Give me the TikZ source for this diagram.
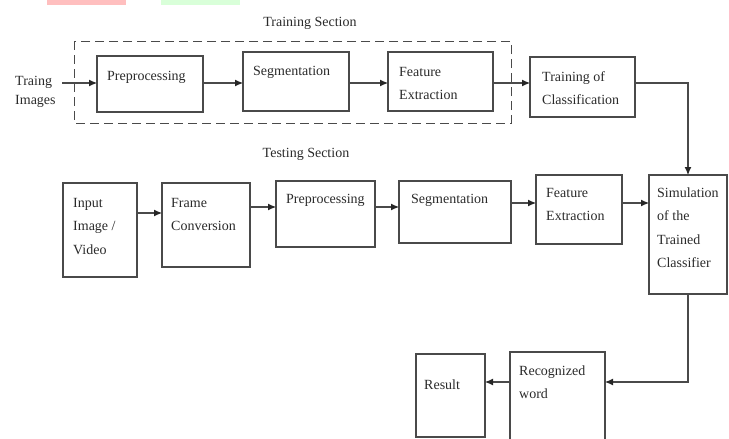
\documentclass[tikz,border=0pt]{standalone}
\usepackage{fontspec}
\setmainfont{Liberation Serif}
\usetikzlibrary{arrows.meta,calc}
\definecolor{ln}{HTML}{4A4A4A}
\definecolor{tx}{HTML}{2A2A2A}
\begin{document}
\begin{tikzpicture}[x=1pt,y=-1pt,
  box/.style={draw=ln,line width=1.1pt,rectangle,inner sep=0pt,outer sep=0pt},
  lbl/.style={anchor=base west,inner sep=0pt,align=left,text=tx,font=\fontsize{14}{23.5}\selectfont},
  ttl/.style={anchor=base,inner sep=0pt,text=tx,font=\fontsize{14}{17}\selectfont},
  arr/.style={draw=ln,line width=1.1pt,-{Latex[length=8pt,width=7pt,color=black!85]}},
  dbox/.style={draw=ln,line width=1pt,dash pattern=on 9pt off 5pt}]
\useasboundingbox (0,0) rectangle (729,439);
% header fragments
\fill[fill=red!25] (47,0) rectangle (126,5);
\fill[fill=green!15] (161,0) rectangle (240,5);
% titles
\node[ttl] (trtitle) at (310,27) {Training Section};
\node[ttl] (tetitle) at (306,157) {Testing Section};
% training section frame
\draw[dbox] (74,41) rectangle (511,123);
% training boxes
\node[box,minimum width=106pt,minimum height=56pt] (tp) at (150,84) {};
\node[box,minimum width=106pt,minimum height=59pt] (ts) at (296,81.5) {};
\node[box,minimum width=105pt,minimum height=59pt] (tf) at (440.5,81.5) {};
\node[box,minimum width=105pt,minimum height=60pt] (tc) at (582.5,87) {};
\node[lbl,font=\fontsize{14}{19}\selectfont] (tin) at (15,104) {Traing\\Images};
\node[lbl] (tpt) at (107,80) {Preprocessing};
\node[lbl] (tst) at (253,75) {Segmentation};
\node[lbl] (tft) at (399,99.5) {Feature\\Extraction};
\node[lbl] (tct) at (542,104.5) {Training of\\Classification};
% testing boxes
\node[box,minimum width=74pt,minimum height=94pt] (ii) at (100,230) {};
\node[box,minimum width=88pt,minimum height=84pt] (fc) at (206,225) {};
\node[box,minimum width=99pt,minimum height=66pt] (pp) at (325.5,214) {};
\node[box,minimum width=112pt,minimum height=62pt] (sg) at (455,212) {};
\node[box,minimum width=86pt,minimum height=69pt] (fe) at (579,209.5) {};
\node[box,minimum width=78pt,minimum height=119pt] (sim) at (688,234.5) {};
\node[box,minimum width=95pt,minimum height=94pt] (rw) at (557.5,399) {};
\node[box,minimum width=69pt,minimum height=83pt] (rs) at (450.5,395.5) {};
\draw[ln,line width=1.8pt] (pp.south west) -- ++(36,0);
\node[lbl] (iit) at (73,254) {Input\\Image /\\Video};
\node[lbl] (fct) at (171,230.5) {Frame\\Conversion};
\node[lbl] (ppt) at (286,203) {Preprocessing};
\node[lbl] (sgt) at (411,203) {Segmentation};
\node[lbl] (fet) at (546,220.5) {Feature\\Extraction};
\node[lbl] (simt) at (657,267.5) {Simulation\\of the\\Trained\\Classifier};
\node[lbl] (rwt) at (519,398.5) {Recognized\\word};
\node[lbl] (rst) at (424,389) {Result};
% level coordinates
\coordinate (ytr) at (0,83);
\coordinate (y1) at (0,213);
\coordinate (y2) at (0,207);
\coordinate (y3) at (0,203);
\coordinate (yb) at (0,382);
\coordinate (tstart) at (62,83);
% training arrows
\draw[arr] (tstart) -- (tstart -| tp.west);
\draw[arr] (tp.east |- ytr) -- (ts.west |- ytr);
\draw[arr] (ts.east |- ytr) -- (tf.west |- ytr);
\draw[arr] (tf.east |- ytr) -- (tc.west |- ytr);
\draw[arr] (tc.east |- ytr) -- (sim.north |- ytr) -- (sim.north);
% testing arrows
\draw[arr] (ii.east |- y1) -- (fc.west |- y1);
\draw[arr] (fc.east |- y2) -- (pp.west |- y2);
\draw[arr] (pp.east |- y2) -- (sg.west |- y2);
\draw[arr] (sg.east |- y3) -- (fe.west |- y3);
\draw[arr] (fe.east |- y3) -- (sim.west |- y3);
\draw[arr] (sim.south) -- (sim.south |- yb) -- (rw.east |- yb);
\draw[arr] (rw.west |- yb) -- (rs.east |- yb);
\end{tikzpicture}
\end{document}
